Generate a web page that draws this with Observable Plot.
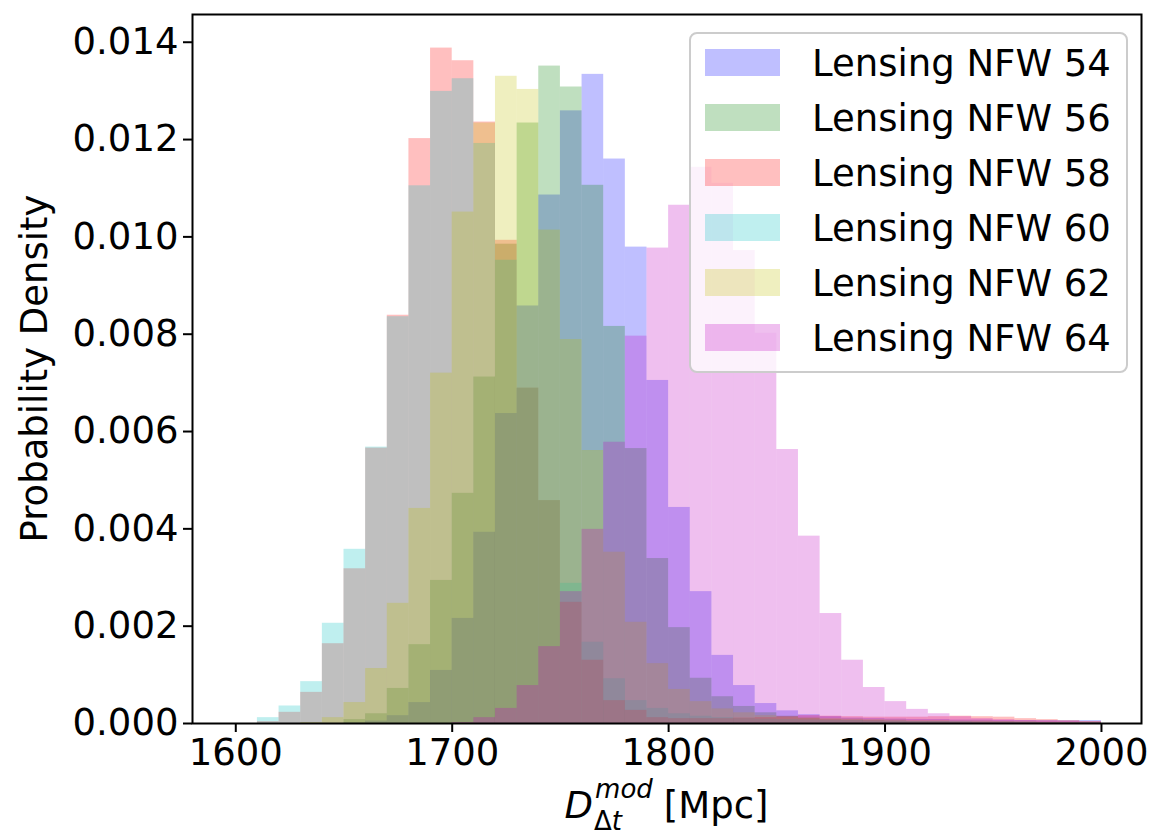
<!DOCTYPE html>
<html><head><meta charset="utf-8">
<script src="https://cdn.jsdelivr.net/npm/d3@7"></script>
<script src="https://cdn.jsdelivr.net/npm/@observablehq/plot@0.6"></script>
<style>html,body{margin:0;padding:0;background:#fff;} svg{display:block;}</style>
</head><body><div id="chart"></div>
<script>
// Bin left edges (Mpc), width 10
const binStarts = [1600,1610,1620,1630,1640,1650,1660,1670,1680,1690,1700,1710,1720,1730,1740,1750,1760,1770,1780,1790,1800,1810,1820,1830,1840,1850,1860,1870,1880,1890,1900,1910,1920,1930,1940,1950,1960,1970,1980,1990];
const binWidth = 10;

const seriesNames = ["Lensing NFW 54","Lensing NFW 56","Lensing NFW 58","Lensing NFW 60","Lensing NFW 62","Lensing NFW 64"];
const seriesColors = ["#0000ff","#008000","#ff0000","#00bfbf","#bfbf00","#bf00bf"];

const nfw54 = [0,0,0,0,0,0.00001,0.00005,0.00016,0.00043,0.00109,0.00216,0.00393,0.00637,0.00858,0.01086,0.01259,0.01334,0.0116,0.00979,0.00705,0.00444,0.00271,0.0014,0.00078,0.00041,0.00026,0.00018,0.00014,0.00011,0.0001,0.00009,0.00008,0.00008,0.00007,0.00007,0.00006,0.00006,0.00006,0.00006,0.00006];
const nfw56 = [0,0,0,0,0,0.00008,0.0002,0.00072,0.00162,0.00294,0.00473,0.00712,0.00985,0.01234,0.01351,0.01308,0.01106,0.00816,0.00565,0.00339,0.00197,0.00093,0.00055,0.00035,0.00022,0.00015,0.00011,0.00008,0.00007,0.00006,0.00005,0.00004,0.00004,0.00003,0.00003,0.00003,0.00002,0.00002,0.00002,0.00002];
const nfw58 = [0,0.00004,0.00023,0.00064,0.00164,0.00318,0.00566,0.00839,0.01202,0.01388,0.01362,0.01236,0.00993,0.00689,0.00458,0.00249,0.0013,0.00047,0.00027,0.00012,0.0001,0.0001,0.0001,0.00011,0.00012,0.00014,0.00016,0.00015,0.00014,0.00013,0.00013,0.00013,0.00014,0.00015,0.00014,0.00013,0.0001,0.00008,0.00006,0.00004];
const nfw60 = [0,0.00012,0.00036,0.00086,0.00206,0.00358,0.00568,0.00836,0.01105,0.01299,0.01325,0.01192,0.00952,0.00689,0.00458,0.00288,0.00167,0.00092,0.00047,0.00031,0.0002,0.00015,0.00012,0.0001,0.00009,0.00008,0.00007,0.00006,0.00006,0.00005,0.00005,0.00004,0.00004,0.00004,0.00003,0.00003,0.00003,0.00002,0.00002,0.00002];
const nfw62 = [0,0,0,0.00002,0.00012,0.00043,0.00113,0.00247,0.00442,0.0072,0.01051,0.01234,0.0133,0.01303,0.01014,0.00789,0.00561,0.00352,0.00208,0.00123,0.0007,0.00045,0.0003,0.00022,0.00016,0.00013,0.00011,0.0001,0.00009,0.00008,0.00007,0.00006,0.00006,0.00005,0.00005,0.00004,0.00004,0.00003,0.00003,0.00003];
const nfw64 = [0,0,0,0,0,0,0,0,0,0,0.00002,0.00012,0.00031,0.00078,0.00158,0.00271,0.00399,0.00578,0.00796,0.00977,0.01065,0.01143,0.0111,0.00972,0.00802,0.00563,0.00385,0.00226,0.0013,0.00074,0.00045,0.00029,0.0002,0.00014,0.0001,0.00008,0.00006,0.00005,0.00004,0.00003];

const xTicks = [1600,1700,1800,1900,2000];
const yTicks = [0,0.002,0.004,0.006,0.008,0.010,0.012,0.014];

const allSeries = [nfw54,nfw56,nfw58,nfw60,nfw62,nfw64];
const tables = allSeries.map((vals, s) => vals.map((v, i) => ({
  series: seriesNames[s], x1: binStarts[i], x2: binStarts[i] + binWidth, y0: 0, y: v
})));

const FONT = "DejaVu Sans";
const FS = 37;
const plot = Plot.plot({
  width: 1154, height: 835,
  marginLeft: 192, marginRight: 13, marginTop: 14, marginBottom: 112,
  style: {fontFamily: FONT, fontSize: FS + "px", background: "white", color: "black", overflow: "visible"},
  x: {domain: [1580, 2018.5]},
  y: {domain: [0, 0.01457]},
  marks: [
    ...tables.map((t, s) => Plot.rect(t, {x1: "x1", x2: "x2", y1: "y0", y2: "y", fill: seriesColors[s], fillOpacity: 0.25, inset: 0})),
    Plot.frame({stroke: "black", strokeWidth: 2}),
    Plot.axisX({ticks: xTicks, tickFormat: d => String(d), tickSize: 9, tickPadding: 6, strokeWidth: 2, label: null}),
    Plot.axisY({ticks: yTicks, tickFormat: d3.format(".3f"), tickSize: 9, tickPadding: 5, strokeWidth: 2, label: null})
  ]
});
document.getElementById("chart").append(plot);

const svg = d3.select(plot);

// Legend
const lg = svg.append("g").attr("font-family", FONT).attr("font-size", FS).attr("text-anchor", "start");
lg.append("rect").attr("x", 690).attr("y", 33).attr("width", 437).attr("height", 339)
  .attr("rx", 7).attr("fill", "white").attr("fill-opacity", 0.8)
  .attr("stroke", "#cccccc").attr("stroke-width", 2);
seriesNames.forEach((name, i) => {
  lg.append("rect").attr("x", 705).attr("y", 49 + 55 * i).attr("width", 75).attr("height", 27)
    .attr("fill", seriesColors[i]).attr("fill-opacity", 0.25);
  lg.append("text").attr("x", 812).attr("y", 76 + 55 * i).attr("text-anchor", "start").attr("fill", "black").text(name);
});

// Y label
svg.append("text").attr("transform", "translate(47,368.5) rotate(-90)")
  .attr("text-anchor", "middle").attr("font-family", FONT).attr("font-size", FS)
  .attr("fill", "black").text("Probability Density");

// X label with super/subscript
const xl = svg.append("g").attr("font-family", FONT).attr("fill", "black").attr("text-anchor", "start");
const tD = xl.append("text").attr("text-anchor", "start").attr("font-size", FS).attr("font-style", "italic").attr("x", 0).attr("y", 0).text("D");
const wD = tD.node().getComputedTextLength();
const tSup = xl.append("text").attr("text-anchor", "start").attr("font-size", 26).attr("font-style", "italic").attr("x", wD + 2).attr("y", -20).text("mod");
const wSup = tSup.node().getComputedTextLength();
const tSub = xl.append("text").attr("text-anchor", "start").attr("font-size", 26).attr("x", wD + 1).attr("y", 12);
tSub.append("tspan").text("Δ");
tSub.append("tspan").attr("font-style", "italic").text("t");
const wSub = tSub.node().getComputedTextLength();
const xAfter = wD + 2 + Math.max(wSup, wSub) + 11;
const tU = xl.append("text").attr("text-anchor", "start").attr("font-size", FS).attr("x", xAfter).attr("y", 0).text("[Mpc]");
const total = xAfter + tU.node().getComputedTextLength();
xl.attr("transform", `translate(${666.5 - total / 2},818)`);
</script>
</body></html>
